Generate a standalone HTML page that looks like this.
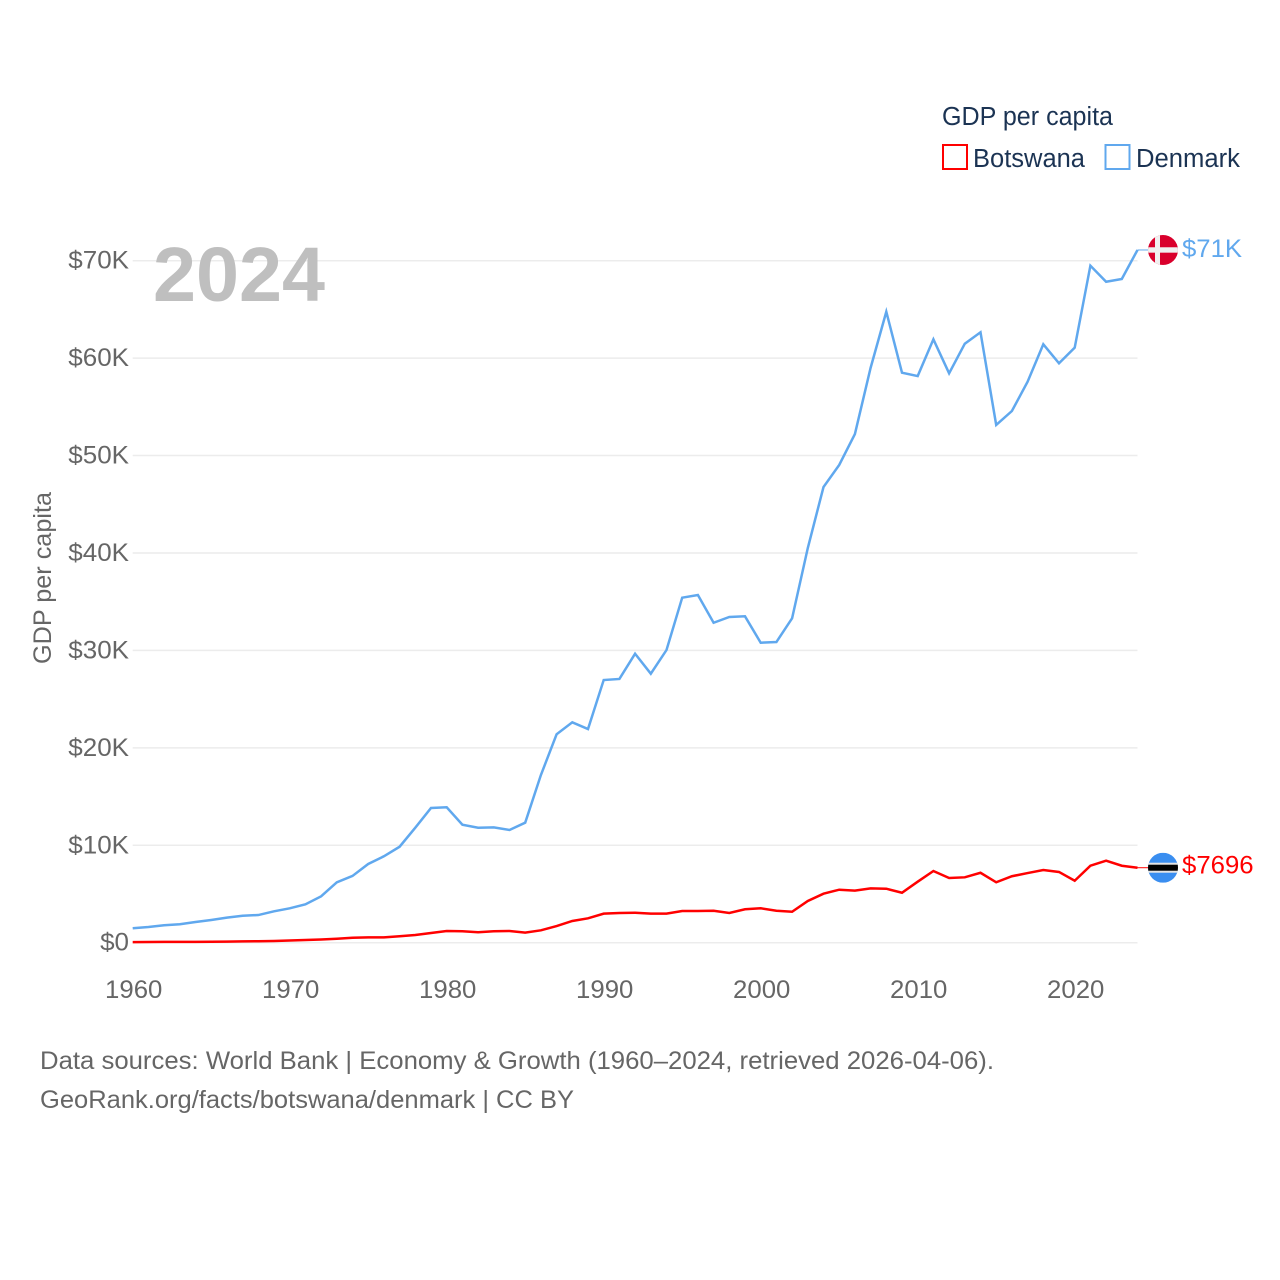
<!DOCTYPE html>
<html lang="en">
<head>
<meta charset="utf-8">
<title>GDP per capita: Botswana and Denmark</title>
<style>
  html, body { margin: 0; padding: 0; background: #fff; }
  svg { display: block; font-family: "Liberation Sans", sans-serif; }
</style>
</head>
<body>
<svg id="chart" width="1280" height="1280" viewBox="0 0 1280 1280" xmlns="http://www.w3.org/2000/svg">
  <rect width="1280" height="1280" fill="#fff"/>
  <defs>
    <clipPath id="flag-clip"><circle cx="0" cy="0" r="15"/></clipPath>
  </defs>

  <g id="grid"></g>
  <g id="y-ticks"></g>
  <g id="x-ticks"></g>

  <text x="153" y="301" font-size="77" font-weight="700" fill="#bfbfbf" textLength="172" lengthAdjust="spacingAndGlyphs">2024</text>

  <text transform="translate(51 578) rotate(-90)" text-anchor="middle" font-size="25" fill="#666" textLength="172" lengthAdjust="spacingAndGlyphs">GDP per capita</text>

  <g id="series"></g>

  <g id="flag-denmark">
    <g clip-path="url(#flag-clip)">
      <rect x="-15" y="-15" width="30" height="30" fill="#d9002c"/>
      <rect x="-8" y="-15" width="5" height="30" fill="#f0f0f0"/>
      <rect x="-15" y="-2.7" width="30" height="5.4" fill="#f0f0f0"/>
    </g>
  </g>
  <g id="flag-botswana">
    <g clip-path="url(#flag-clip)">
      <rect x="-15" y="-15" width="30" height="30" fill="#3a8ef0"/>
      <rect x="-15" y="-5" width="30" height="10" fill="#e4e4e4"/>
      <rect x="-15" y="-3" width="30" height="6" fill="#000"/>
    </g>
  </g>

  <g>
    <text x="942" y="125" font-size="25.5" fill="#1b3353" textLength="171" lengthAdjust="spacingAndGlyphs">GDP per capita</text>
    <g>
      <rect x="943" y="145" width="24" height="24" fill="#fff" stroke="#ff0000" stroke-width="2"/>
      <text x="973" y="167" font-size="25.5" fill="#1b3353" textLength="112" lengthAdjust="spacingAndGlyphs">Botswana</text>
    </g>
    <g>
      <rect x="1105.5" y="145" width="24" height="24" fill="#fff" stroke="#60a8ee" stroke-width="2"/>
      <text x="1136" y="167" font-size="25.5" fill="#1b3353" textLength="104" lengthAdjust="spacingAndGlyphs">Denmark</text>
    </g>
  </g>

  <g>
    <text x="40" y="1069" font-size="25" fill="#666" textLength="954" lengthAdjust="spacingAndGlyphs">Data sources: World Bank | Economy &amp; Growth (1960–2024, retrieved 2026-04-06).</text>
    <text x="40" y="1108" font-size="25" fill="#666" textLength="534" lengthAdjust="spacingAndGlyphs">GeoRank.org/facts/botswana/denmark | CC BY</text>
  </g>
</svg>

<script>
const startYear = 1960;
const xTickYears = [1960, 1970, 1980, 1990, 2000, 2010, 2020];
const yTickValues = [0, 10, 20, 30, 40, 50, 60, 70];
const yTickLabels = ["$0", "$10K", "$20K", "$30K", "$40K", "$50K", "$60K", "$70K"];

// GDP per capita, thousands of US dollars, 1960–2024
const denmarkValues = [
  1.48, 1.61, 1.79, 1.89, 2.12, 2.33, 2.57, 2.77, 2.84, 3.22,
  3.53, 3.94, 4.76, 6.20, 6.85, 8.08, 8.87, 9.85, 11.80, 13.83,
  13.90, 12.11, 11.80, 11.84, 11.57, 12.32, 17.21, 21.39, 22.62, 21.93,
  26.96, 27.07, 29.66, 27.61, 30.04, 35.41, 35.69, 32.84, 33.43, 33.50,
  30.79, 30.86, 33.30, 40.51, 46.77, 49.03, 52.21, 59.00, 64.76, 58.50,
  58.16, 61.93, 58.44, 61.48, 62.65, 53.14, 54.57, 57.58, 61.42, 59.47,
  61.07, 69.49, 67.84, 68.12, 71.10
];
const botswanaValues = [
  0.06, 0.07, 0.08, 0.09, 0.09, 0.10, 0.11, 0.13, 0.15, 0.18,
  0.22, 0.28, 0.33, 0.41, 0.51, 0.55, 0.55, 0.66, 0.79, 1.00,
  1.20, 1.17, 1.07, 1.17, 1.20, 1.03, 1.27, 1.71, 2.23, 2.50,
  2.98, 3.05, 3.08, 2.98, 2.98, 3.25, 3.25, 3.28, 3.05, 3.43,
  3.53, 3.28, 3.18, 4.28, 5.03, 5.44, 5.34, 5.58, 5.54, 5.13,
  6.26, 7.36, 6.64, 6.71, 7.18, 6.20, 6.82, 7.15, 7.46, 7.26,
  6.36, 7.90, 8.42, 7.90, 7.696
];
const denmarkEndLabel = "$71K";
const botswanaEndLabel = "$7696";

const NS = "http://www.w3.org/2000/svg";
const plotLeft = 132.7;
const plotRight = 1137.5;
const pxPerYear = 15.7;
const zeroY = 942.7;
const pxPerThousand = 9.743;
const DENMARK_COLOR = "#60a8ee";
const BOTSWANA_COLOR = "#ff0000";
const flagCenterX = 1163;
const endLabelX = 1182;

function xScale(year) { return plotLeft + (year - startYear) * pxPerYear; }
function yScale(value) { return zeroY - value * pxPerThousand; }
function svgEl(tag) { return document.createElementNS(NS, tag); }

function fitText(el, factor) {
  const measured = el.getComputedTextLength();
  el.setAttribute("textLength", (measured * factor).toFixed(1));
  el.setAttribute("lengthAdjust", "spacingAndGlyphs");
}

const gridGroup = document.getElementById("grid");
const yTickGroup = document.getElementById("y-ticks");
yTickValues.forEach(function (value, i) {
  const line = svgEl("line");
  
  
  line.setAttribute("x1", plotLeft);
  line.setAttribute("x2", plotRight);
  line.setAttribute("y1", yScale(value));
  line.setAttribute("y2", yScale(value));
  line.setAttribute("stroke", "#ececec");
  line.setAttribute("stroke-width", "1.5");
  gridGroup.appendChild(line);

  const label = svgEl("text");
  
  
  label.setAttribute("x", 129);
  label.setAttribute("y", yScale(value) + 8);
  label.setAttribute("text-anchor", "end");
  label.setAttribute("font-size", "25");
  label.setAttribute("fill", "#666");
  label.textContent = yTickLabels[i];
  yTickGroup.appendChild(label);
  fitText(label, 1.04);
});

const xTickGroup = document.getElementById("x-ticks");
xTickYears.forEach(function (year) {
  const label = svgEl("text");
  
  
  label.setAttribute("x", xScale(year) + 1);
  label.setAttribute("y", 998);
  label.setAttribute("text-anchor", "middle");
  label.setAttribute("font-size", "25");
  label.setAttribute("fill", "#666");
  label.textContent = String(year);
  xTickGroup.appendChild(label);
  fitText(label, 1.03);
});

function pathFrom(values) {
  return values.map(function (v, i) {
    return (i ? "L" : "M") + xScale(startYear + i).toFixed(2) + " " + yScale(v).toFixed(2);
  }).join(" ");
}

const seriesGroup = document.getElementById("series");

const denmarkLine = svgEl("path");


denmarkLine.setAttribute("d", pathFrom(denmarkValues));
denmarkLine.setAttribute("fill", "none");
denmarkLine.setAttribute("stroke", DENMARK_COLOR);
denmarkLine.setAttribute("stroke-width", "2.5");
denmarkLine.setAttribute("stroke-linejoin", "miter");
seriesGroup.appendChild(denmarkLine);

const botswanaLine = svgEl("path");


botswanaLine.setAttribute("d", pathFrom(botswanaValues));
botswanaLine.setAttribute("fill", "none");
botswanaLine.setAttribute("stroke", BOTSWANA_COLOR);
botswanaLine.setAttribute("stroke-width", "2.5");
botswanaLine.setAttribute("stroke-linejoin", "miter");
seriesGroup.appendChild(botswanaLine);

const denmarkEndY = yScale(denmarkValues[denmarkValues.length - 1]);
const botswanaEndY = yScale(botswanaValues[botswanaValues.length - 1]);

const denmarkStub = svgEl("line");


denmarkStub.setAttribute("x1", plotRight);
denmarkStub.setAttribute("x2", flagCenterX - 15);
denmarkStub.setAttribute("y1", denmarkEndY);
denmarkStub.setAttribute("y2", denmarkEndY);
denmarkStub.setAttribute("stroke", DENMARK_COLOR);
denmarkStub.setAttribute("stroke-width", "1");
seriesGroup.appendChild(denmarkStub);

const botswanaStub = svgEl("line");


botswanaStub.setAttribute("x1", plotRight);
botswanaStub.setAttribute("x2", flagCenterX - 15);
botswanaStub.setAttribute("y1", botswanaEndY);
botswanaStub.setAttribute("y2", botswanaEndY);
botswanaStub.setAttribute("stroke", BOTSWANA_COLOR);
botswanaStub.setAttribute("stroke-width", "1");
seriesGroup.appendChild(botswanaStub);

document.getElementById("flag-denmark").setAttribute("transform", "translate(" + flagCenterX + " " + denmarkEndY + ")");
document.getElementById("flag-botswana").setAttribute("transform", "translate(" + flagCenterX + " " + botswanaEndY + ")");

const denmarkEnd = svgEl("text");


denmarkEnd.setAttribute("x", endLabelX);
denmarkEnd.setAttribute("y", denmarkEndY + 7);
denmarkEnd.setAttribute("font-size", "25");
denmarkEnd.setAttribute("fill", DENMARK_COLOR);
denmarkEnd.textContent = denmarkEndLabel;
seriesGroup.appendChild(denmarkEnd);
fitText(denmarkEnd, 1.03);

const botswanaEnd = svgEl("text");


botswanaEnd.setAttribute("x", endLabelX);
botswanaEnd.setAttribute("y", botswanaEndY + 6);
botswanaEnd.setAttribute("font-size", "25");
botswanaEnd.setAttribute("fill", BOTSWANA_COLOR);
botswanaEnd.textContent = botswanaEndLabel;
seriesGroup.appendChild(botswanaEnd);
fitText(botswanaEnd, 1.03);
</script>
</body>
</html>
